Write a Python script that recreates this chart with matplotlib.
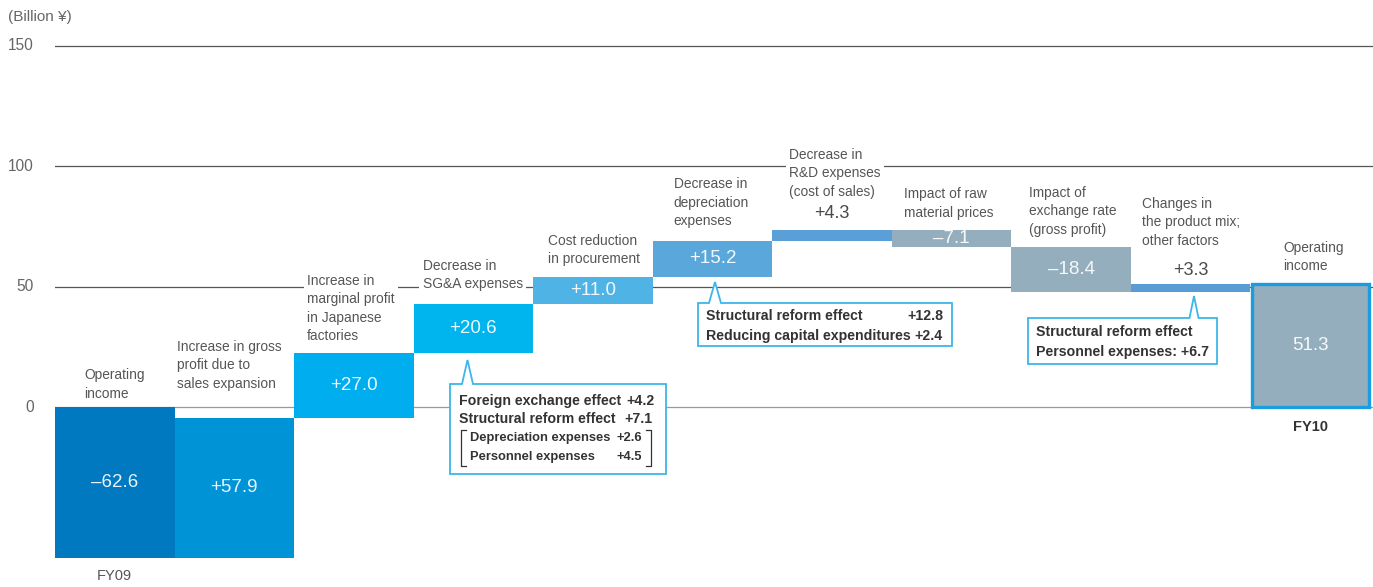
import matplotlib.pyplot as plt
from matplotlib.patches import Polygon

plt.rcParams["font.family"] = ["Liberation Sans", "DejaVu Sans"]

# data
categories = [
    "Operating\nincome",
    "Increase in gross\nprofit due to\nsales expansion",
    "Increase in\nmarginal profit\nin Japanese\nfactories",
    "Decrease in\nSG&A expenses",
    "Cost reduction\nin procurement",
    "Decrease in\ndepreciation\nexpenses",
    "Decrease in\nR&D expenses\n(cost of sales)",
    "Impact of raw\nmaterial prices",
    "Impact of\nexchange rate\n(gross profit)",
    "Changes in\nthe product mix;\nother factors",
    "Operating\nincome",
]
changes = [-62.6, 57.9, 27.0, 20.6, 11.0, 15.2, 4.3, -7.1, -18.4, 3.3, 51.3]
value_labels = ["\u201362.6", "+57.9", "+27.0", "+20.6", "+11.0", "+15.2",
                "+4.3", "\u20137.1", "\u201318.4", "+3.3", "51.3"]
year_labels = ["FY09", "FY10"]
yticks = [0, 50, 100, 150]

colors = ["#0079c1", "#0093d6", "#00aeef", "#00b5ed", "#4fb3e6", "#5aa7dc",
          "#5b9fd8", "#94aebd", "#94aebd", "#5b9bd5", "#94aebd"]

# layout (pixel helpers for annotations)
W, H = 1373, 587
BAR_PX = 119.55
PX_UNIT = 2.4067
X0_PX, Y0_PX = 55, 407


def fx(px):
    return (px - X0_PX) / BAR_PX - 0.5


def fy(py):
    return (Y0_PX - py) / PX_UNIT


label_dx = [29, 2, 13, 9, 15, 21, 17, 12, 18, 11, 33]
label_y = [2.6, 6.8, 26.5, 48.0, 58.6, 74.4, 86.5, 77.8, 70.8, 66.2, 55.7]
outside_value = {6: 80.2, 9: 56.9}

fig = plt.figure(figsize=(W / 100, H / 100), dpi=100)
ax = fig.add_axes([X0_PX / W, 0, 1 - X0_PX / W, 1])
ax.set_xlim(-0.5, fx(W))
ax.set_ylim(fy(H), fy(0))
ax.axis("off")

for t in yticks:
    ax.axhline(t, color="#999999" if t == 0 else "#555555", lw=0.9, zorder=1)
    ax.text(fx(34), t, str(t), ha="right", va="center", fontsize=11.2,
            color="#666666", clip_on=False)
ax.text(fx(8), fy(17), "(Billion \u00a5)", ha="left", va="center", fontsize=11,
        color="#666666", clip_on=False)

# waterfall
n = len(changes)
bottoms, heights = [], []
running = 0.0
for i, c in enumerate(changes):
    if i == 0 or i == n - 1:
        bottoms.append(0.0)
        heights.append(c)
        running = c
    else:
        bottoms.append(running)
        heights.append(c)
        running += c

xs = list(range(n))
ax.bar(xs[:-1], heights[:-1], bottom=bottoms[:-1], width=1.0,
       color=colors[:-1], linewidth=0, zorder=2)
ax.bar(xs[-1], heights[-1], bottom=bottoms[-1], width=0.975, color=colors[-1],
       edgecolor="#1a9de0", linewidth=2.4, zorder=2, align="center")

for i in range(n):
    mid = bottoms[i] + heights[i] / 2
    if i in outside_value:
        ax.text(i, outside_value[i], value_labels[i], ha="center", va="center",
                fontsize=13, color="#4a4a4a", zorder=5)
    else:
        ax.text(i, mid, value_labels[i], ha="center", va="center", fontsize=13.5,
                color="white", alpha=0.92, zorder=5)
    ax.text(i - 0.5 + label_dx[i] / BAR_PX, label_y[i], categories[i],
            ha="left", va="bottom", fontsize=9.9, color="#555555",
            linespacing=1.4, zorder=1.5,
            bbox=dict(facecolor="white", edgecolor="none", pad=2.5))

ax.text(0, fy(576), year_labels[0], ha="center", va="center", fontsize=10.5,
        color="#555555")
ax.text(n - 1, fy(427), year_labels[1], ha="center", va="center", fontsize=10.5,
        fontweight="bold", color="#333333")


# callouts
def callout(left, right, top, bottom, tipx, tipy, half):
    pts = [(left, top), (tipx - half, top), (tipx, tipy), (tipx + half, top),
           (right, top), (right, bottom), (left, bottom)]
    pts = [(fx(a), fy(b)) for a, b in pts]
    ax.add_patch(Polygon(pts, closed=True, facecolor="white",
                         edgecolor="#3db6e9", lw=1.3, zorder=6))


box_kw = dict(fontsize=10.2, fontweight="bold", color="#333333", va="center", zorder=7)
small_kw = dict(fontsize=9.3, fontweight="bold", color="#333333", va="center", zorder=7)

callout(450, 666, 384, 474, 467.5, 360, 5.5)
ax.text(fx(459), fy(401), "Foreign exchange effect", ha="left", **box_kw)
ax.text(fx(655), fy(401), "+4.2", ha="right", **box_kw)
ax.text(fx(459), fy(419), "Structural reform effect", ha="left", **box_kw)
ax.text(fx(653), fy(419), "+7.1", ha="right", **box_kw)
ax.text(fx(470), fy(438), "Depreciation expenses", ha="left", **small_kw)
ax.text(fx(642), fy(438), "+2.6", ha="right", **small_kw)
ax.text(fx(470), fy(457), "Personnel expenses", ha="left", **small_kw)
ax.text(fx(642), fy(457), "+4.5", ha="right", **small_kw)
for a, b in [(466, 461), (646, 651)]:
    ax.plot([fx(a), fx(b), fx(b), fx(a)], [fy(430), fy(430), fy(466), fy(466)],
            color="#333333", lw=0.9, zorder=7)

callout(698, 952, 303, 346, 715, 282, 6)
ax.text(fx(706), fy(316), "Structural reform effect", ha="left", **box_kw)
ax.text(fx(943), fy(316), "+12.8", ha="right", **box_kw)
ax.text(fx(706), fy(336), "Reducing capital expenditures", ha="left", **box_kw)
ax.text(fx(943), fy(336), "+2.4", ha="right", **box_kw)

callout(1028, 1217, 318, 364, 1194, 296, 4.5)
ax.text(fx(1036), fy(332), "Structural reform effect", ha="left", **box_kw)
ax.text(fx(1036), fy(352), "Personnel expenses: +6.7", ha="left", **box_kw)

fig.savefig("out.png", dpi=100)
